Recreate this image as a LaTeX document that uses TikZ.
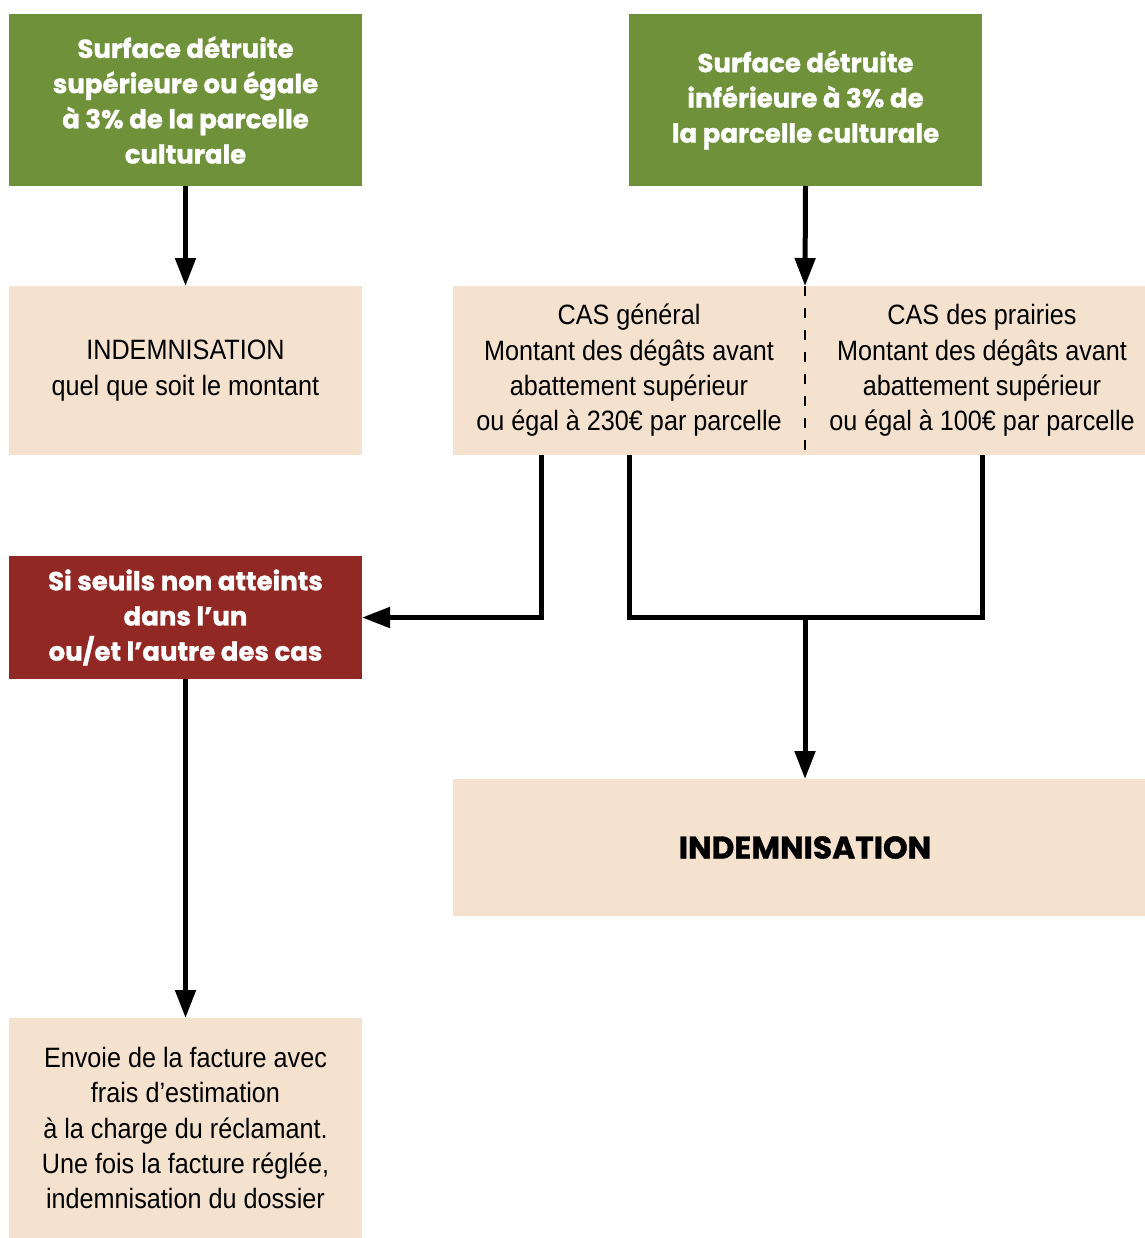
\documentclass[tikz,border=0pt]{standalone}
\usepackage{fontspec}
\setmainfont{Liberation Sans}[FakeStretch=0.9]
\newfontfamily\headfont{Poppins}[BoldFeatures={FakeBold=1.2}]
\usetikzlibrary{arrows.meta,calc}

\definecolor{vert}{RGB}{111,145,58}
\definecolor{beige}{RGB}{244,226,207}
\definecolor{rouge}{RGB}{146,40,35}

\tikzset{
  box/.style={inner sep=0pt, outer sep=0pt, align=center, minimum width=264.75pt},
  titre/.style={box, fill=vert, text=white, font=\headfont\bfseries\fontsize{19.5}{26.4}\selectfont},
  info/.style={box, fill=beige, font=\fontsize{21}{26.5}\selectfont},
  alerte/.style={box, fill=rouge, text=white, font=\headfont\bfseries\fontsize{19.5}{26.4}\selectfont},
  trait/.style={line width=3.75pt},
  fleche/.style={trait, -{Triangle[length=21pt, width=15pt]}}
}

\begin{document}
\begin{tikzpicture}[x=0.75pt, y=-0.75pt]

    \useasboundingbox (0,0) rectangle (1145,1238);

    % Green headers
    \node[titre, minimum height=129pt] (sup) at (185.5,100)
      {Surface détruite\\supérieure ou égale\\à 3\% de la parcelle\\culturale};
    \node[titre, minimum height=129pt] (inf) at (805.5,100)
      {Surface détruite\\inférieure à 3\% de\\la parcelle culturale};

    % Second row
    \node[info, minimum height=126.75pt] (indemtout) at (185.5,370.5)
      {INDEMNISATION\\quel que soit le montant};
    \node[info, minimum width=264pt, minimum height=126.75pt] (general) at (629,370.5)
      {CAS général\\Montant des dégâts avant\\abattement supérieur\\ou égal à 230€ par parcelle};
    \node[info, minimum width=265.5pt, minimum height=126.75pt] (prairies) at (982,370.5)
      {CAS des prairies\\Montant des dégâts avant\\abattement supérieur\\ou égal à 100€ par parcelle};
    \draw[line width=2pt, dash pattern=on 7.5pt off 9pt] (general.north east) -- (general.south east);

    % Thresholds not reached
    \node[alerte, minimum height=92.25pt] (seuils) at (185.5,617.5)
      {Si seuils non atteints\\dans l’un\\ou/et l’autre des cas};

    % Payment
    \node[info, minimum width=528pt, minimum height=102.75pt,
          font=\headfont\bfseries\fontsize{23.5}{26.4}\selectfont] (indem) at (805,847.5)
      {INDEMNISATION};

    % Invoice
    \node[info, minimum height=165pt] (facture) at (185.5,1128)
      {Envoie de la facture avec\\frais d’estimation\\à la charge du réclamant.\\Une fois la facture réglée,\\indemnisation du dossier};

    % Arrows
    \draw[fleche] (sup.south) -- (indemtout.north);
    \draw[fleche] (inf.south) -- (general.north east);
    \draw[fleche] ($(general.south west)!0.25!(general.south east)$) |- (seuils.east);
    \coordinate (jonction) at (805,617);
    \draw[trait] (general.south) |- (jonction) -| (prairies.south);
    \draw[fleche] (jonction) -- (indem.north);
    \draw[fleche] (seuils.south) -- (facture.north);

\end{tikzpicture}
\end{document}
